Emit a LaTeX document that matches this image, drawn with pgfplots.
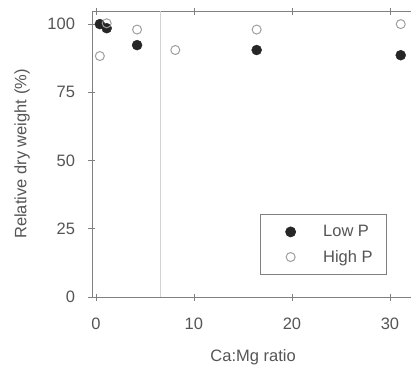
\documentclass[border=0pt]{standalone}
\usepackage{pgfplots}
\pgfplotsset{compat=1.18}
\usepackage{fontspec}
\setmainfont{Liberation Sans}
\definecolor{txt}{HTML}{555555}
\definecolor{axc}{HTML}{808080}
\begin{document}
\begin{tikzpicture}[x=1pt,y=1pt]
\begin{axis}[
  at={(0,0)}, anchor=south west,
  scale only axis, width=319pt, height=286pt,
  xmin=-0.4, xmax=32.15, ymin=0, ymax=104.8,
  axis x line=box, axis y line=left,
  axis line style={-, draw=axc, line width=0.9pt},
  every tick/.style={draw=axc, line width=0.8pt},
  tick align=center, major tick length=7pt,
  xtick={0,10,20,30}, ytick={0,25,50,75,100},
  ytick pos=left,
  ticklabel style={font=\fontsize{16.5}{19}\selectfont, text=txt},
  xticklabel style={yshift=-14pt},
  yticklabel style={xshift=-10pt},
  /pgf/number format/assume math mode=true,
  xlabel={Ca:Mg ratio}, ylabel={Relative dry weight (\%)},
  label style={font=\fontsize{16.5}{19}\selectfont, text=txt},
  xlabel style={at={(axis description cs:0.505,-0.21)}, anchor=center},
  ylabel style={at={(axis description cs:-0.2194,0.5)}, anchor=center},
  legend image code/.code={\path (0pt,0pt) (33pt,0pt);\draw[mark repeat=2,mark phase=2] plot coordinates {(0pt,0pt) (18pt,0pt) (33pt,0pt)};},
  legend style={at={(0.925,0.29)}, anchor=north east, draw=axc, line width=0.8pt,
    font=\fontsize{16.5}{19}\selectfont, text=txt, inner xsep=12pt, inner ysep=9pt,
    cells={anchor=west}, row sep=8pt,
    /tikz/every odd column/.append style={column sep=15pt}},
  clip=false,
]
\draw[gray!35, line width=0.8pt] (axis cs:6.6,0) -- (axis cs:6.6,104.8);
\addplot[only marks, mark=*, mark size=5pt, draw=black!85, fill=black!85]
  coordinates {(0.4,100) (1.1,98.5) (4.2,92.3) (16.4,90.5) (31.1,88.6)};
\addlegendentry{Low P}
\addplot[only marks, mark=o, mark size=4.5pt, draw=gray!75, line width=1pt]
  coordinates {(0.4,88.3) (1.1,100.3) (4.2,98) (8.1,90.5) (16.4,98) (31.1,100)};
\addlegendentry{High P}
\end{axis}
\pgfresetboundingbox
\useasboundingbox (-92,-71) rectangle (319,297);
\end{tikzpicture}
\end{document}
